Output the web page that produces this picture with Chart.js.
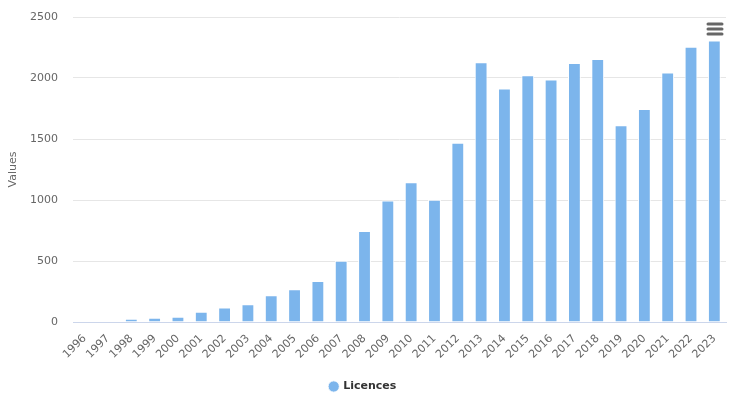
<!DOCTYPE html>
<html>
<head>
<meta charset="utf-8">
<script src="https://cdn.jsdelivr.net/npm/chart.js@4/dist/chart.umd.min.js"></script>
<style>
  html, body { margin: 0; padding: 0; background: #ffffff; }
  #wrap { width: 731px; height: 396px; position: relative; }
</style>
</head>
<body>
<div id="wrap"><canvas id="c" width="731" height="396"></canvas></div>
<script>
const years = ["1996","1997","1998","1999","2000","2001","2002","2003","2004","2005","2006","2007","2008","2009","2010","2011","2012","2013","2014","2015","2016","2017","2018","2019","2020","2021","2022","2023"];
const licences = [0, 0, 27, 35, 44, 85, 118, 145, 219, 269, 337, 502, 746, 995, 1145, 1003, 1470, 2130, 1913, 2023, 1987, 2122, 2155, 1612, 1746, 2045, 2256, 2308];
const seriesName = "Licences";
const yTitle = "Values";
const yTicks = [0, 500, 1000, 1500, 2000, 2500];

const FONT = "'DejaVu Sans', Verdana, sans-serif";

const menuIcon = {
  id: 'menuIcon',
  afterDraw(chart) {
    const ctx = chart.ctx;
    ctx.save();
    ctx.strokeStyle = '#666666';
    ctx.lineWidth = 3;
    ctx.lineCap = 'round';
    [24, 29, 34].forEach(y => {
      ctx.beginPath();
      ctx.moveTo(708, y);
      ctx.lineTo(722, y);
      ctx.stroke();
    });
    ctx.restore();
  }
};

new Chart(document.getElementById('c'), {
  type: 'bar',
  data: {
    labels: years,
    datasets: [{
      label: seriesName,
      data: licences,
      backgroundColor: '#7cb5ec',
      borderColor: '#ffffff',
      borderWidth: 1,
      barPercentage: 0.55,
      categoryPercentage: 1.0,
      pointStyle: 'circle'
    }]
  },
  options: {
    responsive: false,
    animation: false,
    layout: { padding: { left: 0, right: 5, top: 17, bottom: -6 } },
    plugins: {
      legend: {
        position: 'bottom',
        labels: {
          usePointStyle: true,
          pointStyle: 'circle',
          boxWidth: 8,
          boxHeight: 8,
          padding: 4,
          color: '#333333',
          font: { family: FONT, size: 11, weight: 'bold' }
        }
      },
      tooltip: { enabled: false }
    },
    scales: {
      x: {
        grid: { display: false, drawTicks: false },
        border: { display: true, color: '#ccd6eb', width: 1 },
        ticks: {
          color: '#666666',
          font: { family: FONT, size: 11 },
          maxRotation: 45,
          minRotation: 45,
          autoSkip: false,
          padding: 10
        },
        afterFit(scale) {
          scale.height = 55;
          scale.paddingLeft = 0;
          scale.paddingRight = 0;
        }
      },
      y: {
        min: 0,
        max: 2500,
        afterBuildTicks(scale) { scale.ticks = yTicks.map(v => ({ value: v })); },
        grid: { color: '#e6e6e6', drawTicks: false },
        border: { display: false },
        ticks: {
          color: '#666666',
          font: { family: FONT, size: 11 },
          padding: 15,
          callback: (v) => String(v)
        },
        title: {
          display: true,
          text: yTitle,
          color: '#666666',
          font: { family: FONT, size: 11 },
          padding: { top: 7, bottom: 0 }
        },
        afterFit(scale) {
          scale.width = 73;
          scale.paddingTop = 0;
          scale.paddingBottom = 0;
        }
      }
    }
  },
  plugins: [menuIcon]
});
</script>
</body>
</html>
